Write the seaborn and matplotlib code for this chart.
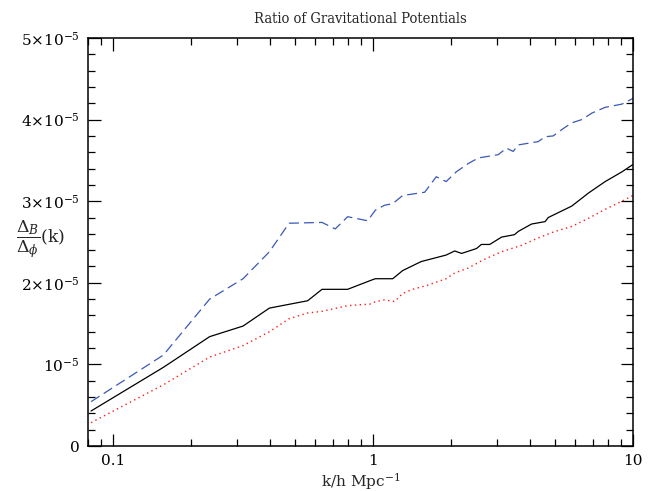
import matplotlib
matplotlib.use("Agg")
import matplotlib.pyplot as plt
import matplotlib.ticker as mticker
import seaborn as sns
import pandas as pd

# ---- data ----
k_black = [0.0822, 0.156, 0.235, 0.316, 0.399, 0.56, 0.636, 0.798, 0.98, 1.02, 1.19, 1.30, 1.53,
           1.91, 2.06, 2.19, 2.50, 2.61, 2.81, 3.12, 3.50, 3.62, 4.07, 4.59, 4.72, 5.16, 5.81,
           6.74, 7.81, 9.07, 10.0]
r_black = [0.429, 0.964, 1.34, 1.47, 1.69, 1.78, 1.92, 1.92, 2.03, 2.05, 2.05, 2.15, 2.26,
           2.34, 2.39, 2.36, 2.42, 2.47, 2.47, 2.56, 2.59, 2.63, 2.72, 2.75, 2.80, 2.86, 2.94,
           3.10, 3.24, 3.36, 3.45]

k_red = [0.0822, 0.156, 0.235, 0.316, 0.399, 0.475, 0.56, 0.636, 0.798, 0.98, 1.02, 1.106, 1.21,
         1.30, 1.42, 1.62, 1.91, 2.06, 2.32, 2.65, 3.12, 3.73, 4.32, 5.01, 5.81, 6.74, 7.81,
         9.07, 10.0]
r_red = [0.286, 0.75, 1.09, 1.23, 1.40, 1.56, 1.63, 1.65, 1.72, 1.74, 1.77, 1.79, 1.77,
         1.87, 1.92, 1.97, 2.05, 2.12, 2.18, 2.28, 2.38, 2.46, 2.55, 2.63, 2.69, 2.79, 2.90,
         3.00, 3.07]

k_blue = [0.0822, 0.156, 0.235, 0.316, 0.399, 0.475, 0.636, 0.715, 0.798, 0.953, 1.02, 1.106,
          1.19, 1.30, 1.58, 1.75, 1.91, 2.09, 2.32, 2.54, 3.03, 3.26, 3.46, 3.62, 4.32, 4.59,
          4.93, 5.39, 5.81, 6.35, 6.95, 7.81, 9.07, 10.0]
r_blue = [0.543, 1.115, 1.80, 2.05, 2.38, 2.73, 2.74, 2.66, 2.81, 2.76, 2.89, 2.95,
          2.97, 3.07, 3.11, 3.30, 3.24, 3.36, 3.46, 3.53, 3.57, 3.65, 3.61, 3.69, 3.73, 3.79,
          3.80, 3.89, 3.96, 4.00, 4.08, 4.15, 4.19, 4.26]

scale = 1e-5
title = "Ratio of Gravitational Potentials"
xlabel = "k/h Mpc$^{-1}$"
ylabel = r"$\dfrac{\Delta_B}{\Delta_\phi}$(k)"
ytick_vals = [0, 1, 2, 3, 4, 5]
ytick_labels = ["0", r"10$^{-5}$", r"2$\times$10$^{-5}$", r"3$\times$10$^{-5}$",
                r"4$\times$10$^{-5}$", r"5$\times$10$^{-5}$"]
xtick_vals = [0.1, 1, 10]
xtick_labels = ["0.1", "1", "10"]

sns.set_theme(style="ticks")
plt.rcParams["font.family"] = ["DejaVu Serif"]
plt.rcParams["mathtext.fontset"] = "dejavuserif"

fig = plt.figure(figsize=(6.57, 4.91), dpi=100)
ax = fig.add_axes([88 / 657, 45 / 491, (633 - 88) / 657, (446 - 38) / 491])

df_b = pd.DataFrame({"k": k_black, "r": [v * scale for v in r_black]})
df_r = pd.DataFrame({"k": k_red, "r": [v * scale for v in r_red]})
df_u = pd.DataFrame({"k": k_blue, "r": [v * scale for v in r_blue]})

sns.lineplot(data=df_u, x="k", y="r", ax=ax, color="#3a58b8", lw=0.9,
             linestyle=(0, (8, 4)), estimator=None, sort=False)
sns.lineplot(data=df_b, x="k", y="r", ax=ax, color="black", lw=0.9,
             estimator=None, sort=False)
sns.lineplot(data=df_r, x="k", y="r", ax=ax, color="#ff1a1a", lw=1.0,
             linestyle=(0, (1, 2.5)), estimator=None, sort=False)

ax.set_xscale("log")
ax.set_xlim(0.08, 10)
ax.set_ylim(0, 5e-5)

ax.set_xticks(xtick_vals)
ax.set_xticklabels(xtick_labels)
ax.xaxis.set_minor_locator(mticker.LogLocator(base=10, subs=range(2, 10)))
ax.xaxis.set_minor_formatter(mticker.NullFormatter())
ax.set_yticks([v * scale for v in ytick_vals])
ax.set_yticklabels(ytick_labels)
ax.yaxis.set_minor_locator(mticker.MultipleLocator(0.2e-5))

ax.tick_params(which="both", direction="in", top=True, right=True, color="black",
               labelsize=11, labelcolor="black")
ax.tick_params(which="major", length=9, width=0.9, pad=6)
ax.tick_params(which="minor", length=5, width=0.9)
for s in ax.spines.values():
    s.set_linewidth(1.1)
    s.set_color("black")

ax.set_xlabel(xlabel, fontsize=11, labelpad=2)
ax.set_ylabel("")
fig.text(16 / 657, 1 - 240 / 491, ylabel, fontsize=12.5, ha="left", va="center")
ax.set_title(title, fontsize=10.5, pad=11, fontstretch="condensed")

fig.savefig("out.png", dpi=100, facecolor="white")
